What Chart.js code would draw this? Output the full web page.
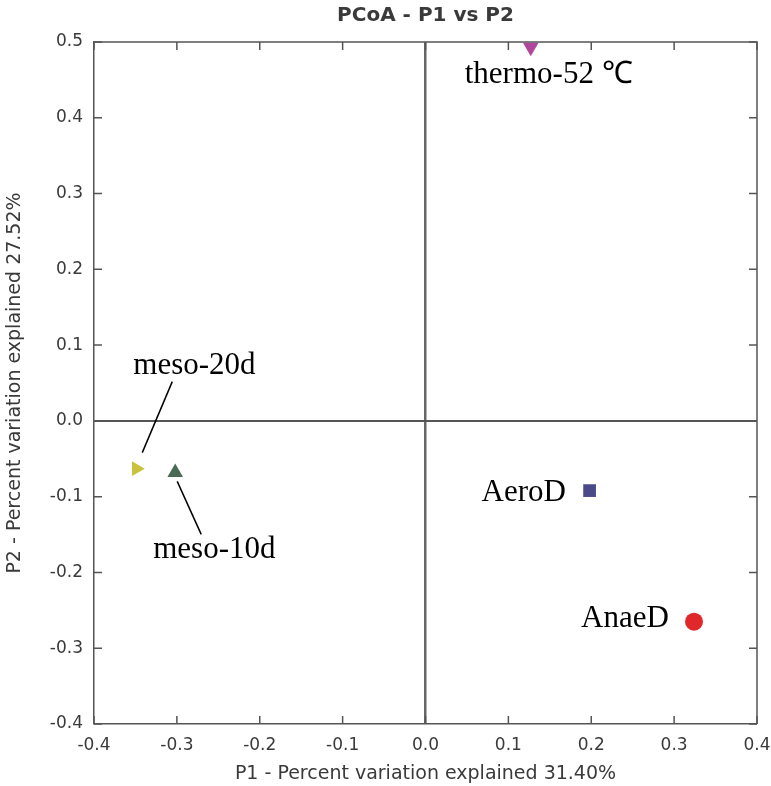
<!DOCTYPE html>
<html>
<head>
<meta charset="utf-8">
<title>PCoA - P1 vs P2</title>
<script src="https://cdn.jsdelivr.net/npm/chart.js@4.4.1/dist/chart.umd.min.js"></script>
<style>
  html, body { margin: 0; padding: 0; background: #fff; }
  #wrap { width: 771px; height: 786px; }
</style>
</head>
<body>
<div id="wrap"><canvas id="pcoa"></canvas></div>
<script>
const sampleNames = ['thermo-52 \u2103', 'meso-20d', 'meso-10d', 'AeroD', 'AnaeD'];
const p1Values = [0.127, -0.349, -0.302, 0.198, 0.324];
const p2Values = [0.493, -0.063, -0.068, -0.092, -0.265];
const xTickLabels = ['-0.4', '-0.3', '-0.2', '-0.1', '0.0', '0.1', '0.2', '0.3', '0.4'];
const yTickLabels = ['-0.4', '-0.3', '-0.2', '-0.1', '0.0', '0.1', '0.2', '0.3', '0.4', '0.5'];

// marker looks
const markerColors = ['#b0479a', '#c9c23a', '#4b6a55', '#4a4a8a', '#e0282a'];
const markerShapes = ['triangle', 'triangle', 'triangle', 'rect', 'circle'];
const markerRotation = [180, 90, 0, 0, 0];
const markerRadius = [9, 8.5, 9, 9, 9];

// where each name sits relative to its point (px): dx, dy to text baseline start
const labelOffsets = [[-66, 36], [-3, -95], [-22, 86], [-108, 10], [-113, 5]];
// leader lines, from/to relative to point (px)
const leaderLines = [null, [6, -16, 36, -87], [2, 9, 26, 62], null, null];

const axisColor = '#555';
const textColor = '#3a3a3a';
const sans = '"DejaVu Sans", sans-serif';

const datasets = sampleNames.map((name, i) => ({
  label: name,
  data: [{ x: p1Values[i], y: p2Values[i] }],
  pointStyle: markerShapes[i],
  rotation: markerRotation[i],
  pointRadius: markerRadius[i],
  pointHoverRadius: markerRadius[i],
  backgroundColor: markerColors[i],
  borderColor: markerColors[i],
  borderWidth: 0
}));

const isZero = (v) => Math.abs(v) < 1e-9;

const framePlugin = {
  id: 'frame',
  afterDatasetsDraw(chart) {
    const { ctx, chartArea: a, scales: { x, y } } = chart;
    const tickLen = 8;
    ctx.save();
    ctx.strokeStyle = axisColor;
    ctx.lineWidth = 1.5;
    ctx.beginPath();
    ctx.moveTo(a.left, a.top);
    ctx.lineTo(a.right, a.top);
    ctx.lineTo(a.right, a.bottom);
    ctx.stroke();

    ctx.beginPath();
    x.ticks.forEach((t) => {
      const px = x.getPixelForValue(t.value);
      ctx.moveTo(px, a.bottom);
      ctx.lineTo(px, a.bottom - tickLen);
      ctx.moveTo(px, a.top);
      ctx.lineTo(px, a.top + tickLen);
    });
    y.ticks.forEach((t) => {
      const py = y.getPixelForValue(t.value);
      ctx.moveTo(a.left, py);
      ctx.lineTo(a.left + tickLen, py);
      ctx.moveTo(a.right, py);
      ctx.lineTo(a.right - tickLen, py);
    });
    ctx.stroke();

    // sample names
    ctx.fillStyle = '#000';
    ctx.font = '31px "Liberation Serif", "Times New Roman", serif';
    ctx.textAlign = 'left';
    ctx.textBaseline = 'alphabetic';
    sampleNames.forEach((name, i) => {
      const px = x.getPixelForValue(p1Values[i]);
      const py = y.getPixelForValue(p2Values[i]);
      ctx.fillText(name, px + labelOffsets[i][0], py + labelOffsets[i][1]);
      const ln = leaderLines[i];
      if (ln) {
        ctx.strokeStyle = '#000';
        ctx.lineWidth = 1.5;
        ctx.beginPath();
        ctx.moveTo(px + ln[0], py + ln[1]);
        ctx.lineTo(px + ln[2], py + ln[3]);
        ctx.stroke();
      }
    });
    ctx.restore();
  }
};

new Chart(document.getElementById('pcoa'), {
  type: 'scatter',
  data: { datasets },
  options: {
    responsive: true,
    maintainAspectRatio: false,
    animation: false,
    events: [],
    layout: { padding: { left: 0, right: 14, top: 0, bottom: 0 } },
    plugins: {
      legend: { display: false },
      tooltip: { enabled: false },
      title: {
        display: true,
        text: 'PCoA - P1 vs P2',
        fullSize: false,
        color: textColor,
        font: { family: sans, size: 20, weight: 'bold', lineHeight: 1.2 },
        padding: { top: 4, bottom: 14 }
      }
    },
    scales: {
      x: {
        type: 'linear',
        min: -0.4,
        max: 0.4,
        afterFit: (s) => { s.height = 62; s.paddingLeft = 0; s.paddingRight = 0; },
        ticks: {
          stepSize: 0.1,
          color: textColor,
          padding: 11,
          font: { family: sans, size: 17 },
          callback: (v, i) => xTickLabels[i]
        },
        grid: {
          drawTicks: false,
          color: (c) => (c.tick && isZero(c.tick.value) ? '#666' : 'rgba(0,0,0,0)'),
          lineWidth: (c) => (c.tick && isZero(c.tick.value) ? 2.5 : 0)
        },
        border: { display: true, color: axisColor, width: 1.5 },
        title: {
          display: true,
          text: 'P1 - Percent variation explained 31.40%',
          color: textColor,
          font: { family: sans, size: 19, lineHeight: 1.2 },
          padding: { top: 0, bottom: 1 }
        }
      },
      y: {
        type: 'linear',
        min: -0.4,
        max: 0.5,
        afterFit: (s) => { s.width = 94; s.paddingTop = 0; s.paddingBottom = 0; },
        ticks: {
          stepSize: 0.1,
          color: textColor,
          padding: 11,
          font: { family: sans, size: 17 },
          callback: (v, i) => yTickLabels[i]
        },
        grid: {
          drawTicks: false,
          color: (c) => (c.tick && isZero(c.tick.value) ? '#555' : 'rgba(0,0,0,0)'),
          lineWidth: (c) => (c.tick && isZero(c.tick.value) ? 2 : 0)
        },
        border: { display: true, color: axisColor, width: 1.5 },
        title: {
          display: true,
          text: 'P2 - Percent variation explained 27.52%',
          color: textColor,
          font: { family: sans, size: 19, lineHeight: 1.2 },
          padding: { top: 4, bottom: 0 }
        }
      }
    }
  },
  plugins: [framePlugin]
});
</script>
</body>
</html>
